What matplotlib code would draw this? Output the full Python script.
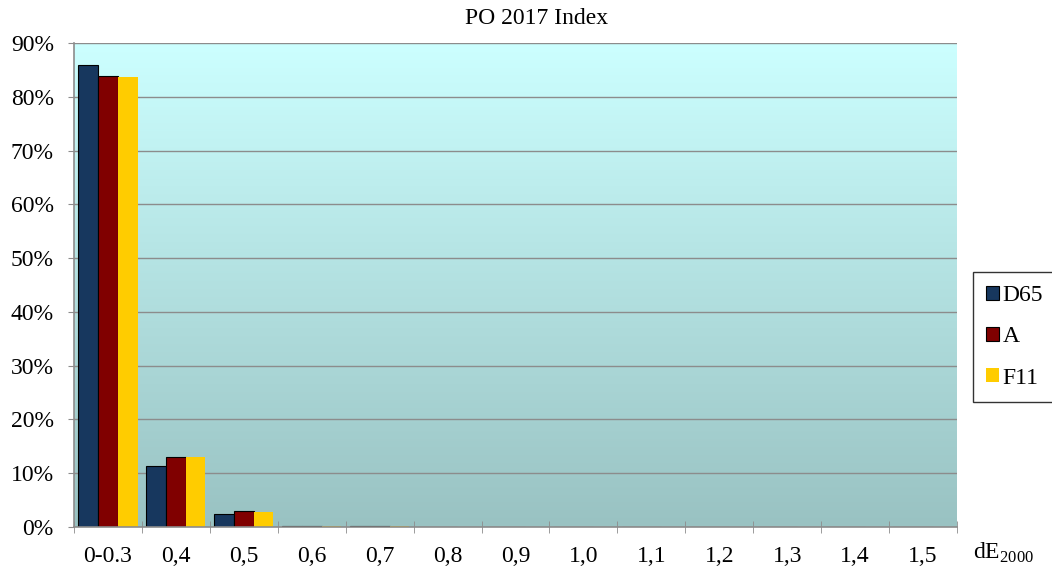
import numpy as np
import matplotlib
matplotlib.use('Agg')
import matplotlib.pyplot as plt
from matplotlib.colors import LinearSegmentedColormap
from matplotlib.ticker import FuncFormatter, MultipleLocator

plt.rcParams['font.family'] = ['Liberation Serif', 'DejaVu Serif']
plt.rcParams['mathtext.fontset'] = 'custom'
plt.rcParams['mathtext.rm'] = 'Liberation Serif'

categories = ['0-0.3', '0,4', '0,5', '0,6', '0,7', '0,8', '0,9',
              '1,0', '1,1', '1,2', '1,3', '1,4', '1,5']
d65 = [85.9, 11.3, 2.4, 0.2, 0.2, 0, 0, 0, 0, 0, 0, 0, 0]
a = [83.8, 13.0, 3.0, 0.2, 0.2, 0, 0, 0, 0, 0, 0, 0, 0]
f11 = [83.6, 13.0, 2.8, 0.1, 0.1, 0, 0, 0, 0, 0, 0, 0, 0]

series = [('D65', d65, '#17375E'), ('A', a, '#800000'), ('F11', f11, '#FFCC00')]

fig = plt.figure(figsize=(10.52, 5.7), dpi=100)
ax = fig.add_axes([74 / 1052, 1 - 527 / 570, (957 - 74) / 1052, (527 - 43) / 570])

# gradient background
cmap = LinearSegmentedColormap.from_list('bg', ['#99C2C2', '#CCFFFF'])
grad = np.linspace(0, 1, 256).reshape(-1, 1)
ax.imshow(grad, cmap=cmap, aspect='auto', origin='lower',
          extent=[0, 1, 0, 1], transform=ax.transAxes, zorder=0)

x = np.arange(len(categories))
w = 0.29
for i, (name, vals, col) in enumerate(series):
    edge = 'none' if name == 'F11' else 'black'
    ax.bar(x + (i - 1) * w, vals, w, color=col, edgecolor=edge,
           linewidth=0.8, label=name, zorder=3)

ax.set_xlim(-0.5, len(categories) - 0.5)
ax.set_ylim(0, 90)
ax.yaxis.set_major_locator(MultipleLocator(10))
ax.yaxis.set_major_formatter(FuncFormatter(lambda v, p: f'{v:.0f}%'))
ax.grid(axis='y', color='#8C8C8C', linewidth=1, zorder=1)
ax.set_axisbelow(True)

ax.set_xticks(x)
ax.set_xticklabels(categories)
ax.set_xticks(np.arange(-0.5, len(categories)), minor=True)
ax.tick_params(axis='x', which='major', length=0, pad=14, labelsize=17)
ax.tick_params(axis='x', which='minor', direction='inout', length=9,
               color='#8C8C8C')
ax.tick_params(axis='y', length=4.5, color='#8C8C8C', labelsize=17, pad=10)

for s in ['top', 'right']:
    ax.spines[s].set_visible(False)
for s in ['left', 'bottom']:
    ax.spines[s].set_color('#8C8C8C')
    ax.spines[s].set_linewidth(1.2)
ax.spines['bottom'].set_zorder(4)

fig.text(537 / 1052, 1 - 18 / 570, 'PO 2017 Index', fontsize=17,
         ha='center', va='center')
fig.text(1003 / 1052, 1 - 553 / 570, r'dE$_{\mathrm{2000}}$', fontsize=17,
         ha='center', va='center')

leg = fig.legend(loc='center left', bbox_to_anchor=(973 / 1052, 1 - 337 / 570),
                 fontsize=17, frameon=True, fancybox=False, edgecolor='black',
                 handlelength=0.55, handleheight=0.55, handletextpad=0.15,
                 labelspacing=0.85, borderpad=0.55, borderaxespad=0)
leg.get_frame().set_linewidth(1)

fig.savefig('out.png', dpi=100)
